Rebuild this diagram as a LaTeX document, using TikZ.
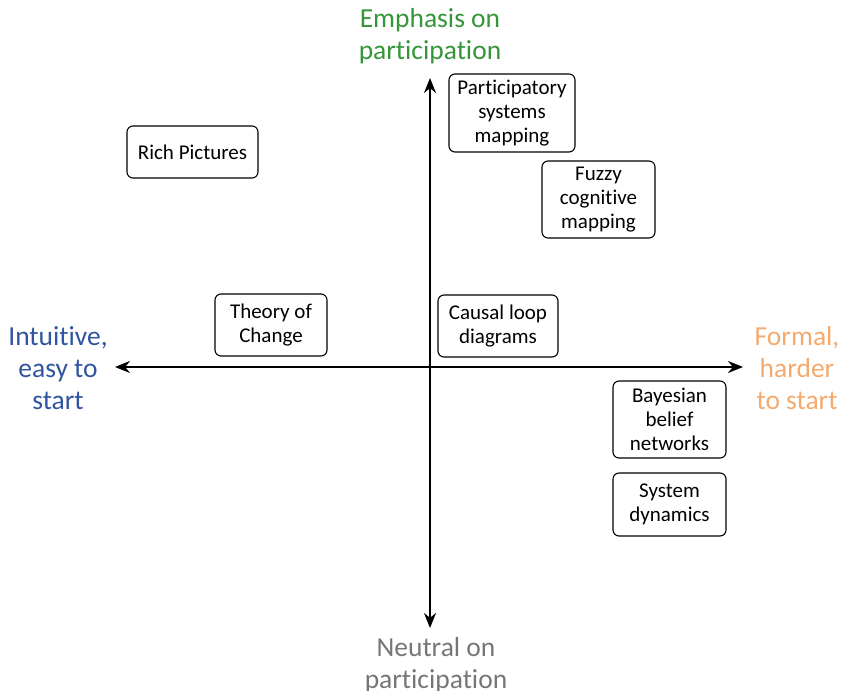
\documentclass[tikz,border=0pt]{standalone}
\usepackage{fontspec}
\setmainfont[Ligatures=NoCommon]{Carlito}
\usetikzlibrary{arrows.meta}
\definecolor{axgreen}{RGB}{52,150,56}
\definecolor{axblue}{RGB}{47,84,160}
\definecolor{axorange}{RGB}{244,170,110}
\definecolor{axgray}{RGB}{118,118,118}
\begin{document}
\begin{tikzpicture}[x=1pt,y=-1pt,
  method/.style={draw, rounded corners=6pt, line width=1.1pt, align=center,
    font=\fontsize{21}{24}\selectfont, inner sep=0pt},
  axis/.style={line width=2pt, {Stealth[length=15pt,width=12pt]}-{Stealth[length=15pt,width=12pt]}},
  axlabel/.style={align=center, font=\fontsize{27.5}{32}\selectfont, inner sep=0pt}]
\useasboundingbox (0,0) rectangle (842,690);

% axes
\coordinate (top) at (430,78);
\coordinate (bottom) at (430,628);
\coordinate (left) at (115,367);
\coordinate (right) at (743,367);
\draw[axis] (top) -- (bottom);
\draw[axis] (left) -- (right);

% axis labels
\node[axlabel, text=axgreen] (emph) at (430,36) {Emphasis on\\participation};
\node[axlabel, text=axgray] (neut) at (436,665) {Neutral on\\participation};
\node[axlabel, text=axblue] (intu) at (58,368) {Intuitive,\\easy to\\start};
\node[axlabel, text=axorange] (form) at (797,368) {Formal,\\harder\\to start};

% methods
\node[method, minimum width=126pt, minimum height=78pt] (psm) at (512,113) {Participatory\\systems\\mapping};
\node[method, minimum width=131pt, minimum height=52pt] (rich) at (192.5,152) {Rich Pictures};
\node[method, minimum width=113pt, minimum height=77pt] (fcm) at (598.5,199.5) {Fuzzy\\cognitive\\mapping};
\node[method, minimum width=112pt, minimum height=62pt] (toc) at (271,325) {Theory of\\Change};
\node[method, minimum width=120pt, minimum height=62pt] (cld) at (498,326) {Causal loop\\diagrams};
\node[method, minimum width=113pt, minimum height=77pt] (bbn) at (669.5,419.5) {Bayesian\\belief\\networks};
\node[method, minimum width=113pt, minimum height=63pt] (sd) at (669.5,504.5) {System\\dynamics};
\end{tikzpicture}
\end{document}
